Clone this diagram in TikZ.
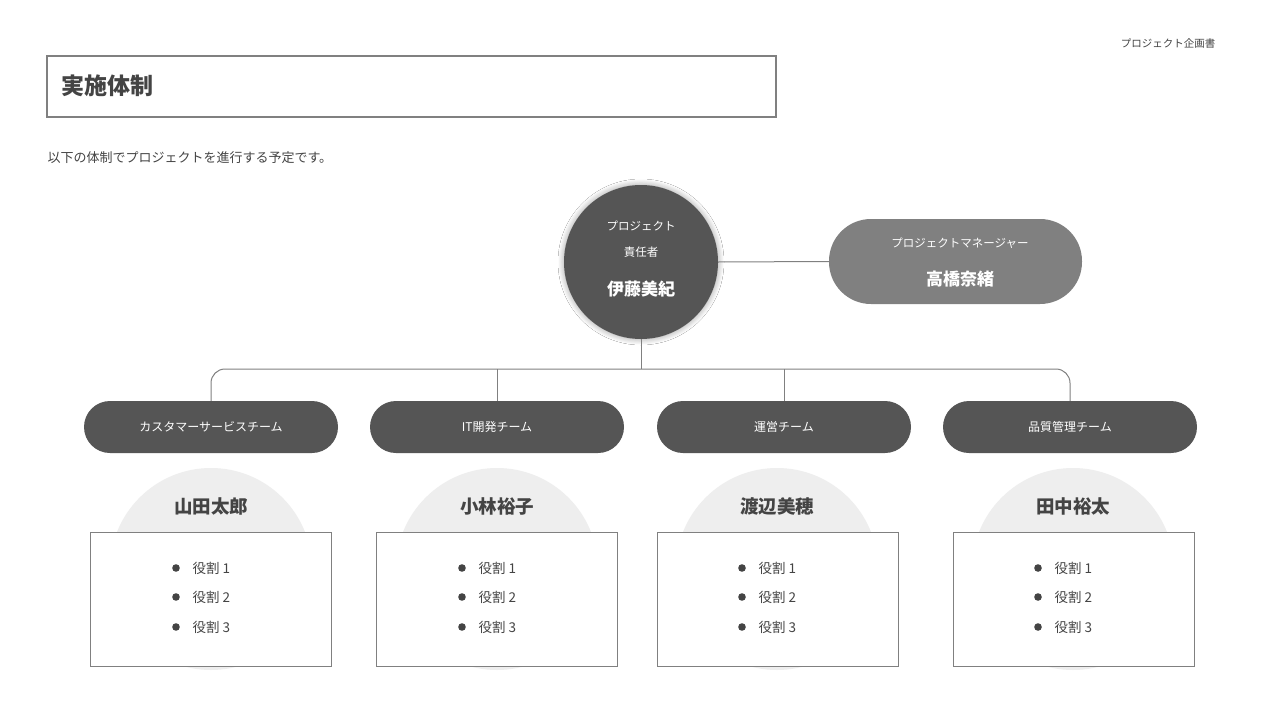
\documentclass[tikz,border=0pt]{standalone}
\usepackage{fontspec}
\setmainfont{Noto Sans CJK JP}
\usetikzlibrary{shadows.blur}
\definecolor{dk}{HTML}{555555}
\definecolor{md}{HTML}{808080}
\definecolor{tx}{HTML}{444444}
\definecolor{lt}{HTML}{EEEEEE}
\tikzset{
 fs/.style={font=\fontsize{#1}{#1}\selectfont},
 team/.style={draw=none,fill=dk,rounded corners=26,minimum width=254,minimum height=52,text=white,fs=12},
 card/.style={draw=md,fill=white,line width=0.8,minimum width=241,minimum height=134,anchor=north west},
 wire/.style={draw=md,line width=1}
}
\begin{document}
\begin{tikzpicture}[x=1pt,y=-1pt]
\useasboundingbox[fill=white] (0,0) rectangle (1280,720);
\node[fs=10.5,text=tx] (doc) at (1168,44) {プロジェクト企画書};
\node[draw=md,line width=2,minimum width=729,minimum height=61,anchor=north west] (tb) at (46,55) {};
\node[anchor=west,fs=23,text=tx,font=\bfseries\fontsize{23}{23}\selectfont] (tt) at (58,86) {実施体制};
\node[anchor=west,fs=13,text=tx] (sub) at (44,158) {以下の体制でプロジェクトを進行する予定です。};
% head
\node[circle,fill=dk,minimum size=154,blur shadow={shadow blur steps=8,shadow xshift=0,shadow yshift=0,shadow blur radius=6pt}] (head) at (641,262) {};
\node[text=white,fs=11.5] at (641,226) {プロジェクト};
\node[text=white,fs=11.5] at (641,252) {責任者};
\node[text=white,font=\bfseries\fontsize{17}{17}\selectfont] at (641,289) {伊藤美紀};
\node[fill=md,rounded corners=42,minimum width=253,minimum height=85] (pm) at (955.5,261.5) {};
\node[text=white,fs=11.5] at (960,243) {プロジェクトマネージャー};
\node[text=white,font=\bfseries\fontsize{17}{17}\selectfont] at (960,279) {高橋奈緒};
\draw[wire] (head.east) -- (pm.west);
% teams
\node[team] (t1) at (211,427) {カスタマーサービスチーム};
\node[team] (t2) at (497,427) {IT開発チーム};
\node[team] (t3) at (784,427) {運営チーム};
\node[team] (t4) at (1070,427) {品質管理チーム};
\coordinate (j) at (641,369);
\draw[wire] (head.south) -- (j);
\draw[wire,rounded corners=14] (t1.north) |- (j) -| (t4.north);
\draw[wire] (t2.north) -- (t2.north |- j);
\draw[wire] (t3.north) -- (t3.north |- j);
% members
\foreach \i/\x/\bx/\nm in {1/211/90/山田太郎,2/497/376/小林裕子,3/777/657/渡辺美穂,4/1073/953/田中裕太}{
 \fill[lt] (\x,569) circle (101);
 \node[card] (c\i) at (\bx,532) {};
 \node[text=tx,font=\bfseries\fontsize{18.5}{18.5}\selectfont] (n\i) at (\x,506) {\nm};
 \foreach \k/\y in {1/568,2/597,3/627}{
  \fill[tx] (\x-35,\y) circle (3.8);
  \node[anchor=west,fs=13.5,text=tx] at (\x-22,\y) {役割 \k};
 }
}
\end{tikzpicture}
\end{document}
